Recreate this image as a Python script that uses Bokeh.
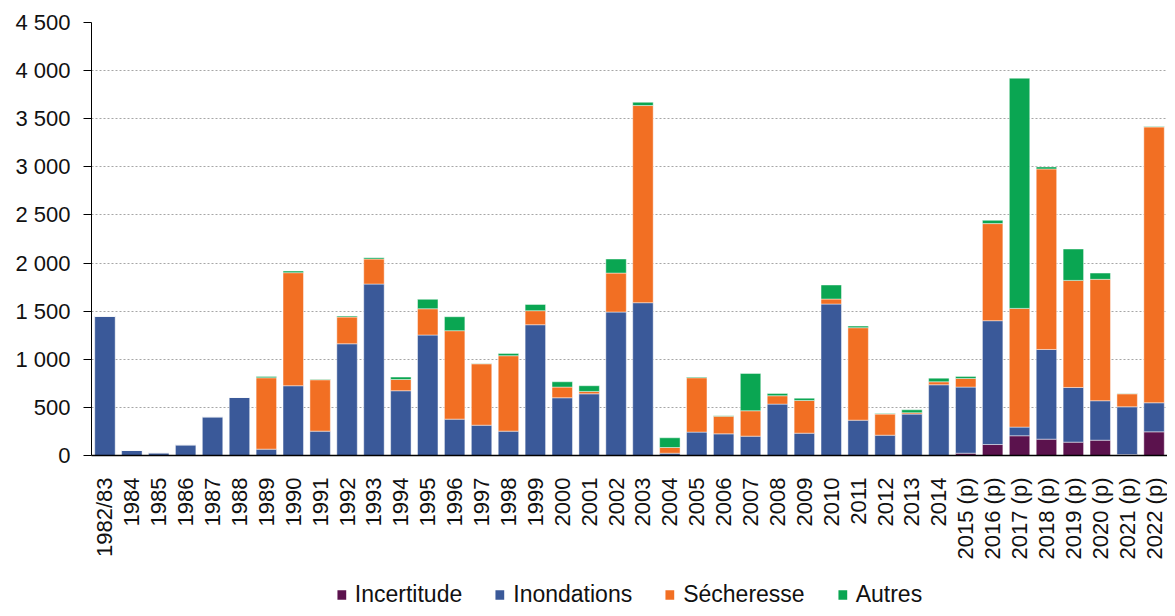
import math
from bokeh.plotting import figure
from bokeh.layouts import column
from bokeh.models import FactorRange, FixedTicker, Range1d, Legend
from bokeh.embed import file_html
from bokeh.resources import INLINE

years = ["1982/83", "1984", "1985", "1986", "1987", "1988", "1989", "1990", "1991",
         "1992", "1993", "1994", "1995", "1996", "1997", "1998", "1999", "2000",
         "2001", "2002", "2003", "2004", "2005", "2006", "2007", "2008", "2009",
         "2010", "2011", "2012", "2013", "2014", "2015 (p)", "2016 (p)", "2017 (p)",
         "2018 (p)", "2019 (p)", "2020 (p)", "2021 (p)", "2022 (p)"]

incertitude = [0, 0, 0, 0, 0, 0, 0, 0, 0,
               0, 0, 0, 0, 0, 0, 0, 0, 0,
               0, 0, 0, 0, 0, 0, 0, 0, 0,
               0, 0, 0, 0, 0, 24, 114, 205,
               170, 139, 159, 10, 246]

inondations = [1446, 52, 28, 111, 402, 603, 66, 725, 253,
               1161, 1782, 673, 1252, 378, 315, 253, 1359, 600,
               641, 1491, 1588, 24, 243, 225, 201, 534, 232,
               1574, 367, 211, 430, 735, 687, 1287, 90,
               932, 568, 410, 496, 302]

secheresse = [0, 0, 0, 0, 0, 0, 742, 1175, 534,
              278, 260, 117, 273, 919, 638, 784, 146, 111,
              25, 405, 2049, 59, 565, 184, 264, 87, 340,
              52, 961, 219, 14, 31, 90, 1009, 1234,
              1876, 1113, 1262, 135, 2867]

autres = [0, 0, 0, 0, 0, 0, 14, 17, 5,
          10, 14, 25, 98, 145, 4, 24, 65, 55,
          59, 146, 34, 101, 7, 4, 388, 24, 24,
          146, 17, 7, 31, 38, 21, 34, 2392,
          21, 326, 65, 4, 3]

series = ["Incertitude", "Inondations", "Sécheresse", "Autres"]
colors = ["#5B124D", "#3A5999", "#F26F23", "#0AA652"]

tick_values = [0, 500, 1000, 1500, 2000, 2500, 3000, 3500, 4000, 4500]
tick_labels = ["0", "500", "1 000", "1 500", "2 000", "2 500", "3 000", "3 500", "4 000", "4 500"]

FONT = "Liberation Sans"
TXT = "#111111"

source = {"year": years, "Incertitude": incertitude, "Inondations": inondations,
          "Sécheresse": secheresse, "Autres": autres}

p = figure(x_range=FactorRange(factors=years, range_padding=0),
           y_range=Range1d(0, 4500),
           width=1167, height=580,
           output_backend="svg", toolbar_location=None,
           min_border_left=91, min_border_right=0, min_border_top=22,
           min_border_bottom=125)

renderers = p.vbar_stack(series, x="year", width=0.76, source=source,
                         fill_color=colors, line_color="white", line_alpha=0.45,
                         line_width=1)

p.outline_line_color = None
p.background_fill_color = "white"
p.border_fill_color = "white"

p.xgrid.visible = False
p.ygrid.grid_line_color = "#a6a6a6"
p.ygrid.grid_line_dash = "2 2"
p.ygrid.grid_line_width = 1

p.yaxis.ticker = FixedTicker(ticks=tick_values)
p.yaxis.major_label_overrides = {v: l for v, l in zip(tick_values, tick_labels)}
p.yaxis.major_tick_out = 8
p.yaxis.major_tick_in = 0
p.yaxis.minor_tick_line_color = None
p.yaxis.axis_line_color = "#000000"
p.yaxis.major_tick_line_color = "#000000"
p.yaxis.major_label_standoff = 13
p.yaxis.major_label_text_font = FONT
p.yaxis.major_label_text_font_size = "22px"
p.yaxis.major_label_text_color = TXT

p.xaxis.major_tick_line_color = None
p.xaxis.minor_tick_line_color = None
p.xaxis.axis_line_color = "#000000"
p.xaxis.axis_line_width = 1.5
p.xaxis.major_label_orientation = math.pi / 2
p.xaxis.major_label_standoff = 16
p.xaxis.major_label_text_font = FONT
p.xaxis.major_label_text_font_size = "22px"
p.xaxis.major_label_text_color = TXT

# Legend strip below the chart (swatch renderers sit outside the strip's range)
pl = figure(width=1167, height=28, x_range=Range1d(0, 1), y_range=Range1d(0, 1),
            output_backend="svg", toolbar_location=None,
            x_axis_location=None, y_axis_location=None,
            min_border_left=17, min_border_right=0, min_border_top=0,
            min_border_bottom=0)
pl.grid.visible = False
pl.outline_line_color = None
legend_renderers = [pl.vbar(x=[-5], top=[0], bottom=[0], width=0.1,
                            fill_color=c, line_color=None)
                    for c in colors]
legend = Legend(items=[(s, [r]) for s, r in zip(series, legend_renderers)],
                orientation="horizontal", location="center",
                glyph_width=11, glyph_height=12, label_standoff=8, spacing=32,
                label_text_font=FONT, label_text_font_size="23px",
                label_text_color=TXT, border_line_color=None,
                background_fill_alpha=0, margin=0, padding=0)
pl.add_layout(legend, "center")

layout = column(p, pl, spacing=0)
open("out.html", "w").write(file_html(layout, INLINE))
